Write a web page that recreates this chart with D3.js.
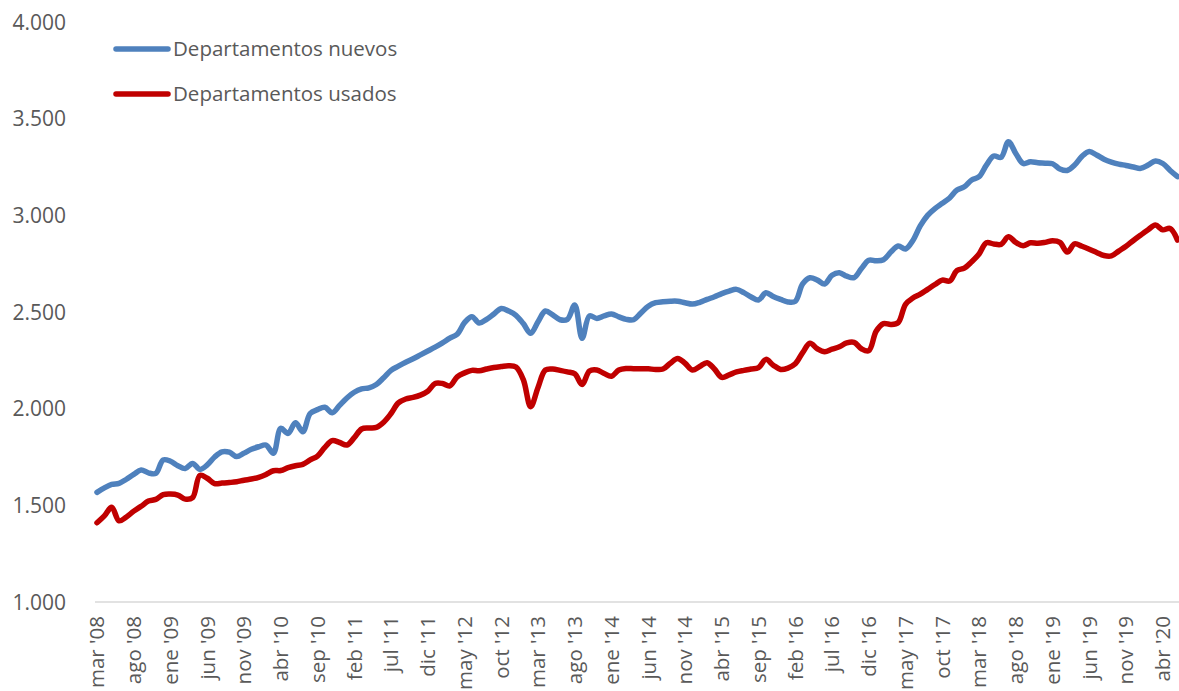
<!DOCTYPE html>
<html>
<head>
<meta charset="utf-8">
<script src="https://cdn.jsdelivr.net/npm/d3@7"></script>
<style>
  body { margin: 0; background: #fff; }
  text { font-family: "Open Sans", sans-serif; fill: #595959; }
</style>
</head>
<body>
<svg id="chart" width="1179" height="691"></svg>
<script>
// monthly categories, mar '08 .. jun '20
const monthNames = ["ene", "feb", "mar", "abr", "may", "jun", "jul", "ago", "sep", "oct", "nov", "dic"];
const months = [];
for (let i = 0; i < 148; i++) {
  const m = (2 + i) % 12, y = 8 + Math.floor((2 + i) / 12);
  months.push(monthNames[m] + " '" + String(y).padStart(2, "0"));
}

const tickLabels = ["mar '08", "ago '08", "ene '09", "jun '09", "nov '09", "abr '10", "sep '10", "feb '11",
  "jul '11", "dic '11", "may '12", "oct '12", "mar '13", "ago '13", "ene '14", "jun '14", "nov '14",
  "abr '15", "sep '15", "feb '16", "jul '16", "dic '16", "may '17", "oct '17", "mar '18", "ago '18",
  "ene '19", "jun '19", "nov '19", "abr '20"];

const yTicks = [1000, 1500, 2000, 2500, 3000, 3500, 4000];

const nuevos = [
  1567, 1590, 1608, 1614, 1635, 1660, 1683, 1668, 1665, 1735, 1728, 1705, 1690, 1717, 1686, 1709,
  1750, 1777, 1775, 1752, 1770, 1790, 1803, 1812, 1769, 1898, 1872, 1927, 1881, 1975, 1995, 2007,
  1979, 2017, 2055, 2085, 2102, 2108, 2125, 2160, 2198, 2220, 2240, 2258, 2278, 2298, 2318, 2340,
  2365, 2385, 2445, 2476, 2443, 2462, 2490, 2518, 2505, 2483, 2440, 2390, 2450, 2505, 2485, 2460,
  2462, 2536, 2364, 2480, 2467, 2480, 2490, 2475, 2462, 2460, 2495, 2530, 2548, 2553, 2556, 2556,
  2548, 2541, 2550, 2565, 2579, 2595, 2608, 2617, 2600, 2578, 2562, 2600, 2580, 2565, 2552, 2555,
  2645, 2677, 2665, 2645, 2690, 2703, 2685, 2678, 2725, 2768, 2765, 2770, 2810, 2841, 2826, 2870,
  2945, 3000, 3035, 3062, 3090, 3131, 3148, 3183, 3200, 3260, 3307, 3300, 3381, 3320, 3268, 3277,
  3272, 3270, 3267, 3240, 3232, 3260, 3305, 3330, 3312, 3290, 3275, 3265, 3258, 3250, 3243, 3260,
  3281, 3268, 3232, 3200
];

const usados = [
  1410, 1445, 1490, 1420, 1440, 1470, 1495, 1522, 1531, 1555, 1558, 1553, 1532, 1540, 1655, 1640,
  1612, 1615, 1618, 1622, 1630, 1636, 1645, 1660, 1679, 1680, 1695, 1705, 1712, 1735, 1755, 1800,
  1835, 1825, 1812, 1850, 1895, 1900, 1903, 1930, 1975, 2030, 2050, 2058, 2070, 2090, 2130, 2130,
  2118, 2165, 2185, 2198, 2196, 2205, 2213, 2218, 2222, 2215, 2150, 2010, 2110, 2200, 2205, 2198,
  2190, 2180, 2125, 2195, 2200, 2182, 2168, 2200, 2208, 2207, 2207, 2206, 2203, 2205, 2235, 2260,
  2235, 2200, 2218, 2238, 2205, 2162, 2175, 2190, 2198, 2205, 2212, 2255, 2225, 2203, 2210, 2232,
  2290, 2338, 2310, 2295, 2308, 2320, 2340, 2343, 2310, 2300, 2400, 2440, 2435, 2445, 2540, 2572,
  2592, 2617, 2642, 2665, 2660, 2715, 2727, 2760, 2800, 2858, 2852, 2850, 2889, 2860, 2843, 2858,
  2855, 2860, 2868, 2860, 2810, 2852, 2840, 2825, 2808, 2792, 2790, 2815, 2840, 2870, 2898, 2925,
  2950, 2925, 2932, 2872
];

const seriesNames = ["Departamentos nuevos", "Departamentos usados"];
const seriesColors = ["#4F81BD", "#C00000"];

const svg = d3.select("#chart");

const x = d3.scalePoint().domain(months).range([97, 1177.5]);
const y = d3.scaleLinear().domain([1000, 4000]).range([602, 22]);

// y tick labels
svg.selectAll(".ylab")
  .data(yTicks)
  .enter()
  .append("text")
  .attr("class", "ylab")
  .attr("x", 66)
  .attr("y", d => y(d))
  .attr("dy", "0.36em")
  .attr("text-anchor", "end")
  .style("font-size", "21px")
  .text(d => d3.format(",")(d).replace(",", "."));

// x axis line
svg.append("line")
  .attr("x1", 95).attr("x2", 1179)
  .attr("y1", y(1000)).attr("y2", y(1000))
  .attr("stroke", "#d9d9d9")
  .attr("stroke-width", 1.5);

// x tick labels, rotated
svg.selectAll(".xlab")
  .data(tickLabels)
  .enter()
  .append("text")
  .attr("class", "xlab")
  .attr("transform", d => `translate(${x(d)},616) rotate(-90)`)
  .attr("dy", "0.36em")
  .attr("text-anchor", "end")
  .style("font-size", "20.5px")
  .text(d => d);

// lines
const line = d3.line()
  .x((d, i) => x(months[i]))
  .y(d => y(d))
  .curve(d3.curveCatmullRom.alpha(0.5));

[nuevos, usados].forEach((s, k) => {
  svg.append("path")
    .datum(s)
    .attr("d", line)
    .attr("fill", "none")
    .attr("stroke", seriesColors[k])
    .attr("stroke-width", 5.5)
    .attr("stroke-linejoin", "round")
    .attr("stroke-linecap", "round");
});

// legend
const legendY = [49, 94];
seriesNames.forEach((name, k) => {
  svg.append("line")
    .attr("x1", 116).attr("x2", 168)
    .attr("y1", legendY[k]).attr("y2", legendY[k])
    .attr("stroke", seriesColors[k])
    .attr("stroke-width", 5.5)
    .attr("stroke-linecap", "round");
  svg.append("text")
    .attr("x", 173)
    .attr("y", legendY[k])
    .attr("dy", "0.36em")
    .style("font-size", "20.5px")
    .text(name);
});
</script>
</body>
</html>
